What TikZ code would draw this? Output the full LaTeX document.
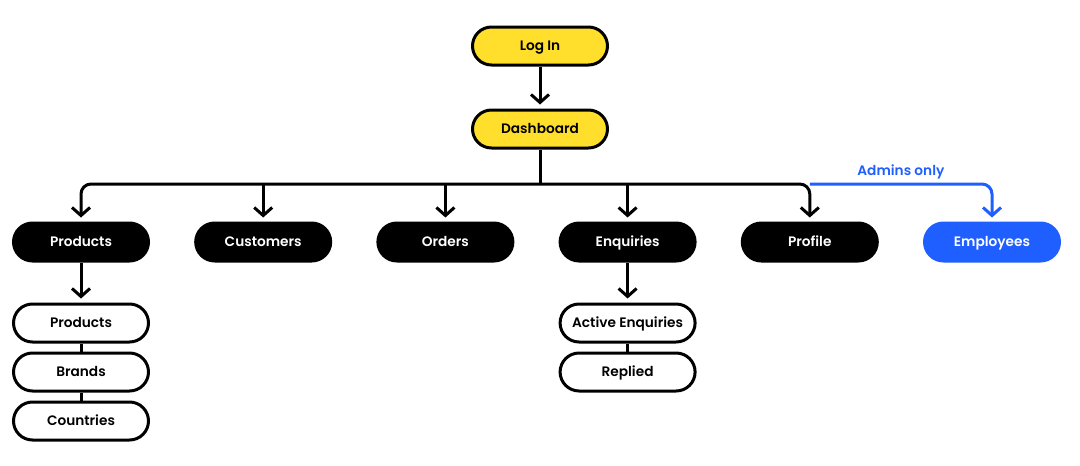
\documentclass[tikz,border=0pt]{standalone}
\usepackage{fontspec}
\setmainfont{Poppins}[BoldFont={Poppins SemiBold}]
\usepackage{tikz}
\usetikzlibrary{arrows.meta,positioning}
\definecolor{mapyellow}{HTML}{FFDF2B}
\definecolor{mapblue}{HTML}{1F5EFF}

\begin{document}
\begin{tikzpicture}[
  x=1pt,y=-1pt,
  node distance=44.2pt,
  every node/.style={font=\fontsize{13.7}{16}\selectfont\bfseries},
  box/.style={rounded corners=19pt,minimum width=135pt,minimum height=38pt,line width=3pt,
    inner sep=0pt,text height=9.6pt,text depth=0pt},
  top/.style={box,draw=black,fill=mapyellow},
  main/.style={box,draw=black,fill=black,text=white},
  admin/.style={box,draw=mapblue,fill=mapblue,text=white},
  sub/.style={box,draw=black,fill=white},
  link/.style={line width=3pt,draw=black},
  arr/.style={link,-{Straight Barb[length=8pt,width=18pt,line width=3pt]},shorten >=4pt,rounded corners=10pt}
]
\useasboundingbox (0,0) rectangle (1080,466);

\node[top] (login) at (540,46) {Log In};
\node[top,below=42pt of login] (dash) {Dashboard};
\draw[arr] (login) -- (dash);

\coordinate (bus) at (540,184);

\node[main] (products) at (81,242) {Products};
\node[main,right=of products] (customers) {Customers};
\node[main,right=of customers] (orders) {Orders};
\node[main,right=of orders] (enquiries) {Enquiries};
\node[main,right=of enquiries] (profile) {Profile};
\node[admin,right=of profile] (employees) {Employees};

\draw[link] (dash.south) -- (bus);
\draw[arr] (bus) -| (products.north);
\draw[arr] (bus) -| (profile.north);
\draw[arr] (customers.north |- bus) -- (customers.north);
\draw[arr] (orders.north |- bus) -- (orders.north);
\draw[arr] (enquiries.north |- bus) -- (enquiries.north);
\draw[arr,draw=mapblue] (profile.north |- bus) -| node[pos=0.25,above,text=mapblue,inner sep=3pt] {Admins only} (employees.north);

% products sub pages
\node[sub,below=40pt of products] (plist) {Products};
\node[sub,below=8pt of plist] (brands) {Brands};
\node[sub,below=8pt of brands] (countries) {Countries};
\draw[arr] (products) -- (plist);
\draw[link] (plist) -- (brands);
\draw[link] (brands) -- (countries);

% enquiries sub pages
\node[sub,below=40pt of enquiries] (active) {Active Enquiries};
\node[sub,below=8pt of active] (replied) {Replied};
\draw[arr] (enquiries) -- (active);
\draw[link] (active) -- (replied);
\end{tikzpicture}
\end{document}
